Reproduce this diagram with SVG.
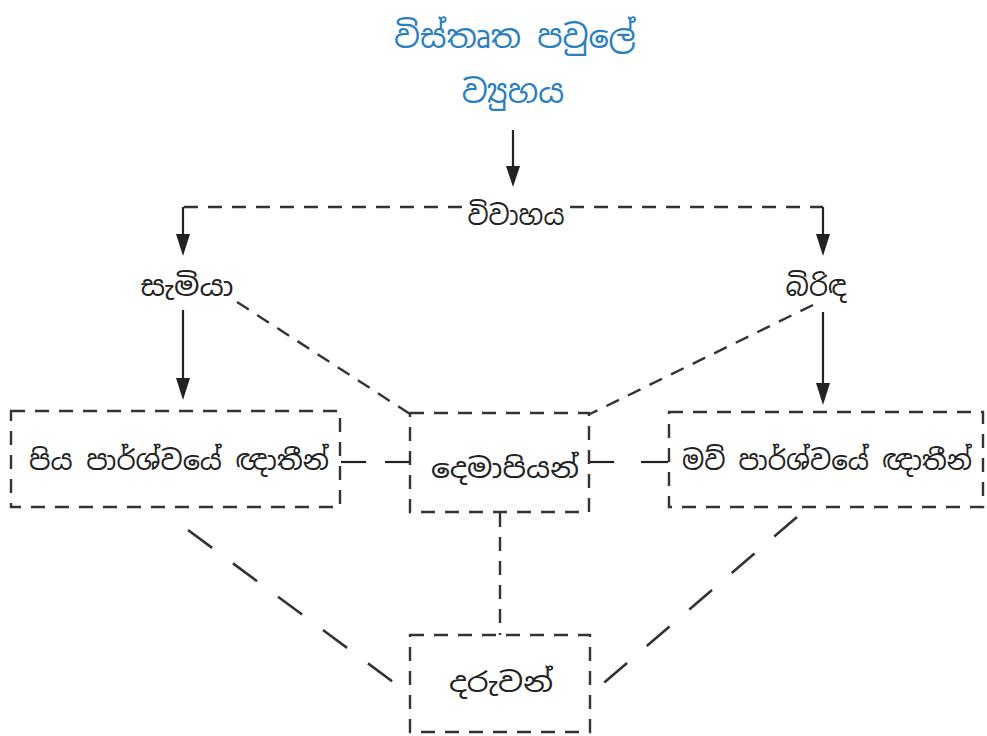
<svg xmlns="http://www.w3.org/2000/svg" width="987" height="736" viewBox="0 0 987 736">
<defs>
<style>
.t{font-family:"Noto Sans Sinhala","Noto Sans","Liberation Sans",sans-serif;fill:#222;text-anchor:middle}
.title{fill:#2a7fc1;font-size:32px}
.lbl{font-size:27px}
.box{fill:none;stroke:#333;stroke-width:2.4;stroke-dasharray:14 10}
.dash{fill:none;stroke:#333;stroke-width:2.4;stroke-dasharray:14 10}
.ldash{fill:none;stroke:#333;stroke-width:2.6;stroke-dasharray:30 26}
.ln{fill:none;stroke:#222;stroke-width:2.2}
.ah{fill:#222}
</style>
</defs>
<rect width="987" height="736" fill="#fff"/>
<g id="title">
<text class="t title" x="515" y="48">විස්තෘත පවුලේ</text>
<text class="t title" x="513" y="103">ව්‍යුහය</text>
</g>
<g id="connectors">
<line class="ln" x1="513" y1="130" x2="513" y2="168"/>
<path class="ah" d="M506,166 L513,187 L520,166 z"/>
<path class="dash" d="M462,207 H183"/>
<path class="dash" d="M570,207 H823"/>
<line class="ln" x1="183" y1="207" x2="183" y2="236"/>
<path class="ah" d="M176,234 L183,256 L190,234 z"/>
<line class="ln" x1="823" y1="207" x2="823" y2="236"/>
<path class="ah" d="M816,234 L823,256 L830,234 z"/>
<line class="ln" x1="183" y1="310" x2="183" y2="380"/>
<path class="ah" d="M176,378 L183,400 L190,378 z"/>
<line class="ln" x1="823" y1="312" x2="823" y2="385"/>
<path class="ah" d="M816,383 L823,405 L830,383 z"/>
<path class="dash" d="M237,302 L410,414"/>
<path class="dash" d="M813,305 L590,414"/>
<line class="ln" x1="341" y1="462" x2="366" y2="462"/>
<line class="ln" x1="385" y1="462" x2="410" y2="462"/>
<line class="ln" x1="590" y1="462" x2="614" y2="462"/>
<line class="ln" x1="641" y1="462" x2="668" y2="462"/>
<path class="dash" d="M500,513 V635"/>
<path class="ldash" d="M188,530 L408,693"/>
<path class="ldash" d="M797,517 L592,693"/>
</g>
<g id="vivahaya">
<text class="t lbl" x="516" y="225" textLength="97" lengthAdjust="spacingAndGlyphs">විවාහය</text>
</g>
<g id="samiya">
<text class="t lbl" x="187" y="296" textLength="93" lengthAdjust="spacingAndGlyphs">සැමියා</text>
</g>
<g id="birinda">
<text class="t lbl" x="816" y="296">බිරිඳ</text>
</g>
<g id="piya">
<rect class="box" x="11" y="411" width="329" height="96"/>
<text class="t lbl" x="179" y="470" textLength="300" lengthAdjust="spacingAndGlyphs">පිය පාර්ශ්වයේ ඥාතීන්</text>
</g>
<g id="demapiyan">
<rect class="box" x="410" y="413" width="179" height="99"/>
<text class="t lbl" x="505" y="478" textLength="148" lengthAdjust="spacingAndGlyphs">දෙමාපියන්</text>
</g>
<g id="mav">
<rect class="box" x="669" y="412" width="314" height="95"/>
<text class="t lbl" x="827" y="470" textLength="290" lengthAdjust="spacingAndGlyphs">මව් පාර්ශ්වයේ ඥාතීන්</text>
</g>
<g id="daruwan">
<rect class="box" x="410" y="635" width="180" height="97"/>
<text class="t lbl" x="501" y="692" textLength="104" lengthAdjust="spacingAndGlyphs">දරුවන්</text>
</g>
</svg>
